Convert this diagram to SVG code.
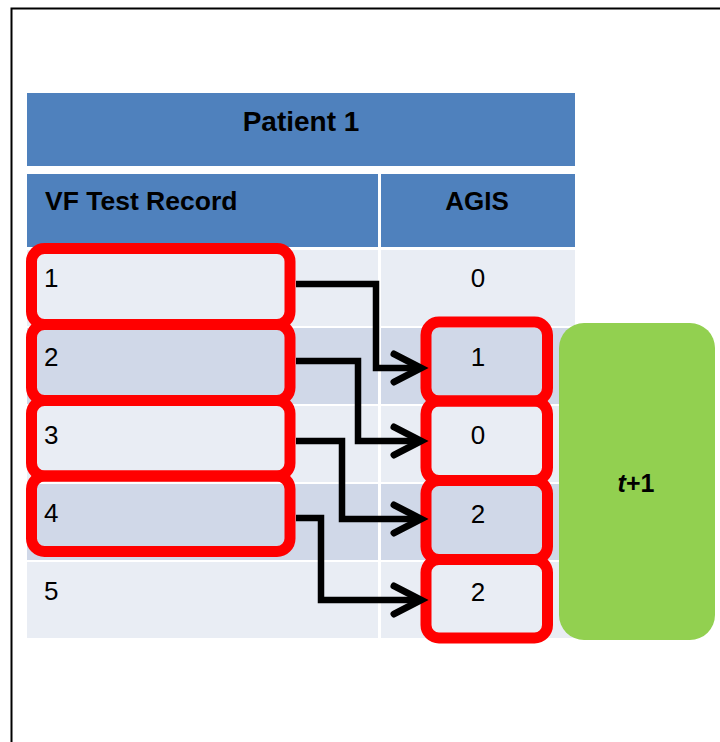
<svg xmlns="http://www.w3.org/2000/svg" width="720" height="742" viewBox="0 0 720 742">
<style>
.hdr{fill:#4F81BD}
.lt{fill:#E9EDF4}
.dk{fill:#D0D8E8}
.ht{font-family:"Liberation Sans",Arial,sans-serif;font-weight:bold;font-size:26px;fill:#000}
.num{font-family:"Liberation Sans",Arial,sans-serif;font-size:26px;fill:#000}
.red{fill:none;stroke:#FF0000;stroke-width:11}
.conn{fill:none;stroke:#000;stroke-width:6.5;stroke-linejoin:miter}
</style>
<defs>
<marker id="arr" markerUnits="userSpaceOnUse" markerWidth="40" markerHeight="40" refX="0" refY="0" orient="auto" overflow="visible">
<path d="M-27,-14 L0,0 L-27,14" fill="none" stroke="#000" stroke-width="7" stroke-linecap="round" stroke-linejoin="miter"/>
</marker>
</defs>
<rect x="0" y="0" width="720" height="742" fill="#fff"/>
<rect x="11.5" y="8.5" width="800" height="800" fill="none" stroke="#000" stroke-width="2"/>
<g id="table">
<rect class="hdr" x="27" y="93" width="548" height="73"/>
<rect class="hdr" x="27" y="174" width="351" height="73"/>
<rect class="hdr" x="381" y="174" width="194" height="73"/>
<rect class="lt" x="27" y="250" width="351" height="76"/>
<rect class="lt" x="381" y="250" width="194" height="76"/>
<rect class="dk" x="27" y="328" width="351" height="76"/>
<rect class="dk" x="381" y="328" width="194" height="76"/>
<rect class="lt" x="27" y="406" width="351" height="76"/>
<rect class="lt" x="381" y="406" width="194" height="76"/>
<rect class="dk" x="27" y="484" width="351" height="76"/>
<rect class="dk" x="381" y="484" width="194" height="76"/>
<rect class="lt" x="27" y="562" width="351" height="76"/>
<rect class="lt" x="381" y="562" width="194" height="76"/>
<text class="ht" x="301" y="131" text-anchor="middle" style="font-size:28px">Patient 1</text>
<text class="ht" x="45" y="210" style="font-size:26.5px">VF Test Record</text>
<text class="ht" x="477" y="210" text-anchor="middle">AGIS</text>
<text class="num" x="44" y="287">1</text>
<text class="num" x="44" y="366">2</text>
<text class="num" x="44" y="444">3</text>
<text class="num" x="44" y="522">4</text>
<text class="num" x="44" y="600">5</text>
<text class="num" x="478" y="287" text-anchor="middle">0</text>
</g>
<g id="green">
<rect x="559" y="323" width="156" height="317" rx="25" fill="#92D050"/>
<text class="ht" x="636" y="492" text-anchor="middle" style="font-size:25px"><tspan font-style="italic">t</tspan>+1</text>
</g>
<g id="vf1"><rect class="red" x="31.5" y="248.5" width="258.5" height="76" rx="13"/></g>
<g id="vf2"><rect class="red" x="31.5" y="324.5" width="258.5" height="76" rx="13"/></g>
<g id="vf3"><rect class="red" x="31.5" y="400.5" width="258.5" height="75.5" rx="13"/></g>
<g id="vf4"><rect class="red" x="31.5" y="476" width="258.5" height="75.5" rx="13"/></g>
<g id="ag1"><rect class="red" x="426" y="322" width="121.5" height="79" rx="13"/><text class="num" x="478" y="366" text-anchor="middle">1</text></g>
<g id="ag2"><rect class="red" x="426" y="401" width="121.5" height="79.5" rx="13"/><text class="num" x="478" y="444" text-anchor="middle">0</text></g>
<g id="ag3"><rect class="red" x="426" y="480.5" width="121.5" height="79" rx="13"/><text class="num" x="478" y="523" text-anchor="middle">2</text></g>
<g id="ag4"><rect class="red" x="426" y="559.5" width="121.5" height="78.5" rx="13"/><text class="num" x="478" y="601" text-anchor="middle">2</text></g>
<g id="connectors">
<path class="conn" d="M296,284 H376 V368 H421" marker-end="url(#arr)"/>
<path class="conn" d="M296,361 H358 V441 H421" marker-end="url(#arr)"/>
<path class="conn" d="M296,441 H342 V519 H421" marker-end="url(#arr)"/>
<path class="conn" d="M296,518 H321 V600 H421" marker-end="url(#arr)"/>
</g>
</svg>
